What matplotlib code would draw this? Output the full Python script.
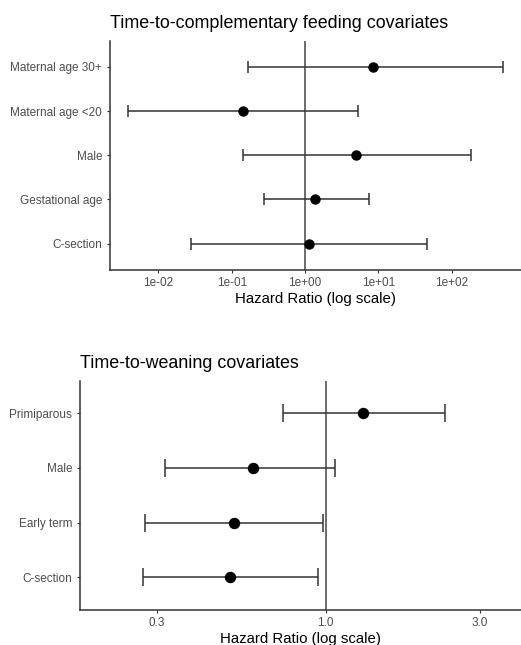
import matplotlib
matplotlib.use("Agg")
import matplotlib.pyplot as plt
import numpy as np

plt.rcParams['font.family'] = ['Liberation Sans', 'DejaVu Sans']

# Top panel: time-to-complementary feeding
cf_labels = ["C-section", "Gestational age", "Male", "Maternal age <20", "Maternal age 30+"]
cf_hr = [1.15, 1.37, 4.96, 0.143, 8.5]
cf_low = [0.0276, 0.276, 0.143, 0.0039, 0.165]
cf_high = [46.0, 7.46, 184.0, 5.3, 500.0]
cf_ticks = [1e-2, 1e-1, 1e0, 1e1, 1e2]
cf_ticklabels = ["1e-02", "1e-01", "1e+00", "1e+01", "1e+02"]

# Bottom panel: time-to-weaning
w_labels = ["C-section", "Early term", "Male", "Primiparous"]
w_hr = [0.508, 0.5215, 0.597, 1.307]
w_low = [0.273, 0.2767, 0.318, 0.739]
w_high = [0.949, 0.981, 1.071, 2.34]
w_ticks = [0.3, 1.0, 3.0]
w_ticklabels = ["0.3", "1.0", "3.0"]

W, H = 521, 645
fig = plt.figure(figsize=(W / 100, H / 100), dpi=100)

line_col = "#333333"
tick_col = "#4D4D4D"


def panel(rect, labels, hr, low, high, ticks, ticklabels, xlim, ms, cap):
    ax = fig.add_axes(rect)
    y = np.arange(len(labels))
    hr = np.array(hr); low = np.array(low); high = np.array(high)
    ax.axvline(1.0, color="#444444", lw=1.1, zorder=1)
    ax.errorbar(hr, y, xerr=[hr - low, high - hr], fmt="none", ecolor=line_col,
                elinewidth=1.1, capsize=cap, capthick=1.1, zorder=2)
    ax.plot(hr, y, "o", color="black", ms=ms, zorder=3)
    ax.set_xscale("log")
    ax.set_xlim(*xlim)
    ax.set_ylim(-0.6, len(labels) - 1 + 0.6)
    ax.set_xticks(ticks)
    ax.set_xticklabels(ticklabels)
    ax.xaxis.set_minor_locator(matplotlib.ticker.NullLocator())
    ax.set_yticks(y)
    ax.set_yticklabels(labels)
    for s in ["top", "right"]:
        ax.spines[s].set_visible(False)
    for s in ["left", "bottom"]:
        ax.spines[s].set_color(line_col)
        ax.spines[s].set_linewidth(1.1)
    ax.tick_params(axis="both", which="major", length=2.5, width=0.8, color=line_col,
                   labelcolor=tick_col, labelsize=8.5, pad=2.8)
    ax.tick_params(axis="y", pad=3.2)
    return ax


# top panel: px left 110, bottom 270, top 40.5
panel([110 / W, 1 - 270 / H, 1 - 110 / W, (270 - 40.5) / H],
      cf_labels, cf_hr, cf_low, cf_high, cf_ticks, cf_ticklabels,
      (10 ** -2.66, 10 ** 2.947), 6.5, 4.3)
fig.text(110 / W, 1 - 23.5 / H, "Time-to-complementary feeding covariates",
         fontsize=12.9, ha="left", va="center", color="black")
fig.text(315.5 / W, 1 - 299 / H, "Hazard Ratio (log scale)", fontsize=10.8,
         ha="center", va="center", color="black")

# bottom panel: px left 80, bottom 610, top 380.5
panel([80 / W, 1 - 610 / H, 1 - 80 / W, (610 - 380.5) / H],
      w_labels, w_hr, w_low, w_high, w_ticks, w_ticklabels,
      (0.174, 4.02), 7.2, 6.4)
fig.text(80 / W, 1 - 363.5 / H, "Time-to-weaning covariates",
         fontsize=12.9, ha="left", va="center", color="black")
fig.text(300.5 / W, 1 - 638.5 / H, "Hazard Ratio (log scale)", fontsize=10.8,
         ha="center", va="center", color="black")

fig.savefig("out.png", dpi=100, facecolor="white")
